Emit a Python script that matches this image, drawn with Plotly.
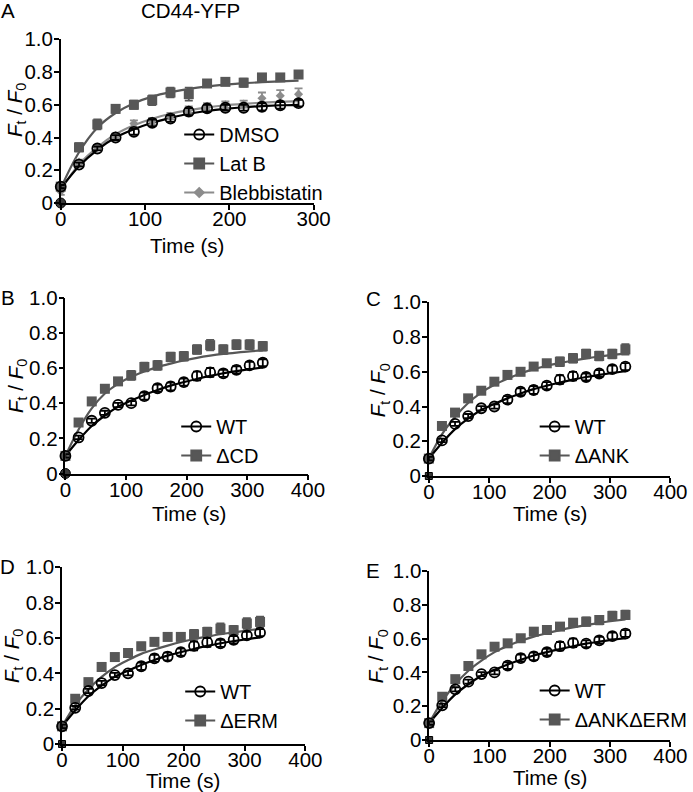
import plotly.graph_objects as go

W, H = 693, 792

# time points (s)
time_a = [0, 21.7, 43.4, 65.1, 86.8, 108.5, 130.2, 151.9, 173.6, 195.3, 217.0, 238.7, 260.4, 282.1]
time_b = [0, 21.7, 43.4, 65.1, 86.8, 108.5, 130.2, 151.9, 173.6, 195.3, 217.0, 238.7, 260.4, 282.1, 303.8, 325.5]

# panel A
dmso = [0.10, 0.235, 0.333, 0.40, 0.435, 0.49, 0.516, 0.558, 0.578, 0.582, 0.582, 0.588, 0.597, 0.61]
dmso_err = [0.01, 0.012, 0.012, 0.015, 0.018, 0.02, 0.02, 0.022, 0.022, 0.018, 0.018, 0.022, 0.02, 0.02]
dmso_fit = [0.09, 0.225, 0.325, 0.40, 0.45, 0.49, 0.52, 0.545, 0.562, 0.575, 0.585, 0.592, 0.597, 0.60]
latb = [0.10, 0.34, 0.48, 0.575, 0.60, 0.628, 0.675, 0.665, 0.73, 0.74, 0.735, 0.767, 0.767, 0.785]
latb_err = [0.01, 0.025, 0.03, 0.025, 0.025, 0.03, 0.03, 0.04, 0.02, 0.02, 0.025, 0.02, 0.015, 0.015]
latb_fit = [0.09, 0.31, 0.46, 0.55, 0.61, 0.65, 0.677, 0.697, 0.712, 0.723, 0.732, 0.738, 0.743, 0.747]
blebb = [0.07, 0.25, 0.34, 0.41, 0.485, 0.50, 0.53, 0.57, 0.59, 0.60, 0.605, 0.64, 0.655, 0.665]
blebb_err = [0.02, 0.015, 0.015, 0.015, 0.02, 0.02, 0.02, 0.02, 0.02, 0.02, 0.02, 0.035, 0.035, 0.035]
blebb_fit = [0.08, 0.235, 0.34, 0.42, 0.475, 0.515, 0.545, 0.567, 0.584, 0.597, 0.606, 0.613, 0.618, 0.622]

# panels B-E share the same WT data
wt = [0.10, 0.205, 0.30, 0.345, 0.39, 0.40, 0.44, 0.485, 0.495, 0.52, 0.555, 0.575, 0.57, 0.59, 0.615, 0.63]
wt_err = [0.01, 0.01, 0.012, 0.012, 0.012, 0.012, 0.02, 0.02, 0.022, 0.02, 0.025, 0.025, 0.02, 0.02, 0.02, 0.02]
wt_fit = [0.10, 0.19, 0.27, 0.33, 0.38, 0.415, 0.447, 0.475, 0.50, 0.52, 0.538, 0.555, 0.57, 0.582, 0.593, 0.603]

dcd = [0.10, 0.29, 0.41, 0.482, 0.524, 0.558, 0.606, 0.615, 0.663, 0.667, 0.705, 0.73, 0.705, 0.733, 0.733, 0.724]
dcd_err = [0.01, 0.015, 0.02, 0.02, 0.02, 0.025, 0.025, 0.025, 0.025, 0.025, 0.025, 0.03, 0.025, 0.025, 0.025, 0.025]
dcd_fit = [0.10, 0.25, 0.37, 0.455, 0.51, 0.55, 0.58, 0.605, 0.625, 0.643, 0.658, 0.67, 0.68, 0.688, 0.695, 0.70]

dank = [0.10, 0.288, 0.365, 0.447, 0.491, 0.543, 0.582, 0.60, 0.63, 0.649, 0.658, 0.678, 0.703, 0.691, 0.703, 0.729]
dank_err = [0.01, 0.015, 0.02, 0.02, 0.02, 0.02, 0.02, 0.02, 0.02, 0.02, 0.025, 0.025, 0.025, 0.025, 0.025, 0.03]
dank_fit = [0.10, 0.24, 0.34, 0.42, 0.48, 0.525, 0.56, 0.59, 0.615, 0.635, 0.65, 0.665, 0.677, 0.688, 0.697, 0.705]

derm = [0.10, 0.256, 0.35, 0.436, 0.492, 0.515, 0.553, 0.578, 0.606, 0.606, 0.621, 0.634, 0.653, 0.644, 0.682, 0.691]
derm_err = [0.01, 0.015, 0.02, 0.02, 0.02, 0.02, 0.02, 0.02, 0.02, 0.02, 0.025, 0.025, 0.03, 0.025, 0.03, 0.03]
derm_fit = [0.10, 0.22, 0.31, 0.38, 0.435, 0.475, 0.51, 0.535, 0.557, 0.577, 0.594, 0.608, 0.621, 0.632, 0.642, 0.651]

dankerm = [0.10, 0.256, 0.36, 0.438, 0.507, 0.552, 0.572, 0.602, 0.641, 0.651, 0.671, 0.694, 0.70, 0.71, 0.734, 0.74]
dankerm_err = [0.01, 0.015, 0.02, 0.02, 0.02, 0.02, 0.02, 0.02, 0.02, 0.02, 0.02, 0.02, 0.025, 0.025, 0.025, 0.025]
dankerm_fit = [0.10, 0.23, 0.33, 0.41, 0.47, 0.52, 0.557, 0.587, 0.612, 0.632, 0.65, 0.666, 0.68, 0.693, 0.704, 0.714]

# bleach point at origin
zero_t = [0]
zero_f = [0]

y_ticks = [0, 0.2, 0.4, 0.6, 0.8, 1.0]
y_ticktext = ["0", "0.2", "0.4", "0.6", "0.8", "1.0"]

FONT = "Liberation Sans, Arial, sans-serif"
FS = 20.5
DARK = "#575757"
LIGHT = "#8c8c8c"

# panel boxes in pixels: x0, x1, ytop(1.0), ybottom(0)
boxes = {
    1: (61, 315, 39.3, 203),
    2: (65.7, 309.3, 297.7, 473.5),
    3: (430.7, 673.3, 302.3, 476),
    4: (62.3, 306.7, 567.3, 744),
    5: (431, 673.3, 571, 740),
}

fig = go.Figure()


def ax(n):
    return ("x" if n == 1 else "x%d" % n), ("y" if n == 1 else "y%d" % n)


def add_data(n, t, f, err, symbol, color, size, lcolor, lw=1.8):
    xa, ya = ax(n)
    fig.add_trace(go.Scatter(
        x=t, y=f, mode="markers", xaxis=xa, yaxis=ya, showlegend=False,
        cliponaxis=False,
        marker=dict(symbol=symbol, size=size, color=color,
                    line=dict(color=lcolor, width=lw)),
        error_y=dict(type="data", array=err, color=lcolor if symbol == "circle-open" else color,
                     thickness=1.8, width=4),
    ))


def add_fit(n, t, f, color):
    xa, ya = ax(n)
    fig.add_trace(go.Scatter(
        x=t, y=f, mode="lines", xaxis=xa, yaxis=ya, showlegend=False,
        line=dict(color=color, width=2.2, shape="spline"),
    ))


def add_key(n, name, symbol, color, size, lcolor):
    xa, ya = ax(n)
    fig.add_trace(go.Scatter(
        x=[None], y=[None], mode="lines+markers", xaxis=xa, yaxis=ya, name=name,
        legend="legend" if n == 1 else "legend%d" % n,
        line=dict(color=lcolor, width=2.2),
        marker=dict(symbol=symbol, size=size, color=color, line=dict(color=lcolor, width=1.8)),
    ))


def add_zero(n, symbol, size):
    xa, ya = ax(n)
    fig.add_trace(go.Scatter(
        x=zero_t, y=zero_f, mode="markers", xaxis=xa, yaxis=ya, showlegend=False,
        cliponaxis=False,
        marker=dict(symbol=symbol, size=size, color="#3a3a3a", line=dict(color="black", width=1)),
    ))


# panel A
add_fit(1, time_a, blebb_fit, LIGHT)
add_fit(1, time_a, latb_fit, DARK)
add_fit(1, time_a, dmso_fit, "black")
add_data(1, time_a, blebb, blebb_err, "diamond", LIGHT, 7, LIGHT, 0)
add_data(1, time_a, latb, latb_err, "square", DARK, 10, DARK, 0)
add_data(1, time_a, dmso, dmso_err, "circle-open", "black", 10, "black")
add_zero(1, "circle", 10)
add_key(1, "DMSO", "circle-open", "black", 10, "black")
add_key(1, "Lat B", "square", DARK, 10, DARK)
add_key(1, "Blebbistatin", "diamond", LIGHT, 7, LIGHT)

mutants = [
    (2, "ΔCD", dcd, dcd_err, dcd_fit, "circle"),
    (3, "ΔANK", dank, dank_err, dank_fit, "square"),
    (4, "ΔERM", derm, derm_err, derm_fit, "square"),
    (5, "ΔANKΔERM", dankerm, dankerm_err, dankerm_fit, "square"),
]
for n, name, f, err, fit, zsym in mutants:
    add_fit(n, time_b, fit, DARK)
    add_fit(n, time_b, wt_fit, "black")
    add_data(n, time_b, f, err, "square", DARK, 10, DARK, 0)
    add_data(n, time_b, wt, wt_err, "circle-open", "black", 10, "black")
    add_zero(n, zsym, 10 if zsym == "circle" else 7)
    add_key(n, "WT", "circle-open", "black", 10, "black")
    add_key(n, name, "square", DARK, 10, DARK)

layout = dict(
    width=W, height=H, autosize=False,
    margin=dict(l=0, r=0, t=0, b=0),
    paper_bgcolor="white", plot_bgcolor="white",
    font=dict(family=FONT, size=FS, color="black"),
)

axis_style = dict(showline=True, linecolor="black", linewidth=1.5, ticks="outside",
                  ticklen=5, tickwidth=1.5, tickcolor="black", showgrid=False,
                  zeroline=False, automargin=False, fixedrange=True,
                  tickfont=dict(family=FONT, size=FS, color="black"))

for n, (x0, x1, yt, yb) in boxes.items():
    xa, ya = ax(n)
    xmax = 300 if n == 1 else 400
    layout[xa.replace("x", "xaxis")] = dict(
        axis_style, domain=[x0 / W, x1 / W], range=[0, xmax],
        tickvals=[0, 100, 200, 300] if n == 1 else [0, 100, 200, 300, 400],
        anchor=ya, ticklabelstandoff=-8,
    )
    layout[ya.replace("y", "yaxis")] = dict(
        axis_style, domain=[1 - yb / H, 1 - yt / H], range=[0, 1],
        tickvals=y_ticks, ticktext=y_ticktext, anchor=xa, ticklabelstandoff=-3,
    )

# legends
leg_pos = {1: (180, 115), 2: (177, 407), 3: (537, 407), 4: (181, 672), 5: (537, 671)}
for n, (lx, ly) in leg_pos.items():
    key = "legend" if n == 1 else "legend%d" % n
    layout[key] = dict(x=lx / W, y=1 - ly / H, xanchor="left", yanchor="top",
                       bgcolor="rgba(0,0,0,0)", borderwidth=0, tracegroupgap=0,
                       font=dict(family=FONT, size=20, color="black"))

fig.update_layout(**layout)

# text labels
notes = [
    ("A", 8, 10), ("B", 8, 297), ("C", 375, 298), ("D", 8, 566), ("E", 375, 570),
    ("CD44-YFP", 191, 10),
    ("Time (s)", 188, 246), ("Time (s)", 190, 513), ("Time (s)", 552, 513),
    ("Time (s)", 184, 780), ("Time (s)", 552, 777),
]
for text, x, y in notes:
    fig.add_annotation(text=text, x=x / W, y=1 - y / H, xref="paper", yref="paper",
                       showarrow=False, xanchor="center", yanchor="middle",
                       font=dict(family=FONT, size=FS, color="black"))

ytitle = "<i>F</i><sub>t</sub> / <i>F</i><sub>0</sub>"
for x, y in [(16, 110), (17, 386), (381, 390), (13, 656), (379, 656)]:
    fig.add_annotation(text=ytitle, x=x / W, y=1 - y / H, xref="paper", yref="paper",
                       showarrow=False, textangle=-90, xanchor="center", yanchor="middle",
                       font=dict(family=FONT, size=FS, color="black"))

fig.write_html("out.html", config={"displayModeBar": False},
               post_script="document.body.style.margin='0';")
